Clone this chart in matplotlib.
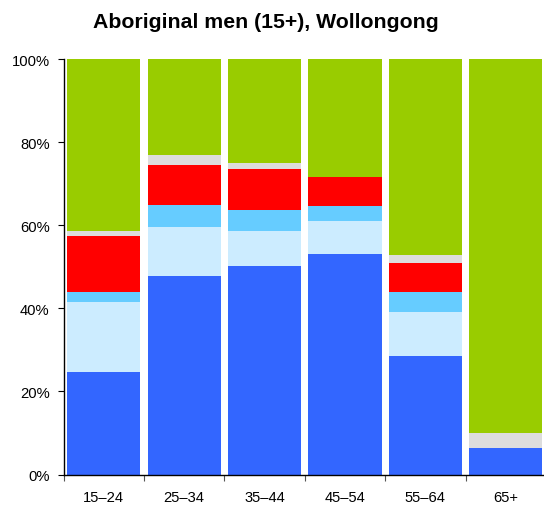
import matplotlib
matplotlib.use("Agg")
import matplotlib.pyplot as plt
import numpy as np

plt.rcParams['font.family'] = ['Liberation Sans', 'DejaVu Sans']

categories = ["15–24", "25–34", "35–44", "45–54", "55–64", "65+"]
series_names = ["s1", "s2", "s3", "s4", "s5", "s6"]
s1 = [24.6, 47.8, 50.1, 53.2, 28.5, 6.4]
s2 = [16.9, 11.8, 8.6, 7.8, 10.6, 0.0]
s3 = [2.4, 5.4, 5.0, 3.7, 4.9, 0.0]
s4 = [13.5, 9.6, 9.8, 6.9, 6.9, 0.0]
s5 = [1.2, 2.4, 1.5, 0.0, 1.9, 3.7]
s6 = [41.4, 23.0, 25.0, 28.4, 47.2, 89.9]
colors = ["#3366FF", "#CCECFF", "#66CCFF", "#FF0000", "#DDDDDD", "#99CC00"]

W, H = 544, 506
fig = plt.figure(figsize=(W / 100, H / 100), dpi=100)
left, right = 63.5, 546.0
top, bottom = 60.3, 475.5
ax = fig.add_axes([left / W, 1 - bottom / H, (right - left) / W, (bottom - top) / H])

x = np.arange(len(categories))
base = np.zeros(len(categories))
for vals, c in zip([s1, s2, s3, s4, s5, s6], colors):
    v = np.array(vals)
    ax.bar(x, v, bottom=base, width=0.91, color=c, edgecolor='none', zorder=2)
    base += v

ax.set_xlim(-0.5, len(categories) - 0.5)
ax.set_ylim(0, 100)
ax.set_yticks([0, 20, 40, 60, 80, 100])
ax.set_yticklabels([f"{v}%" for v in [0, 20, 40, 60, 80, 100]], fontsize=10.6)
ax.tick_params(axis='y', length=4, width=0.8, pad=6, colors='black')

ax.set_xticks(np.arange(len(categories) + 1) - 0.5)
ax.set_xticklabels([])
ax.tick_params(axis='x', which='major', length=4, width=0.8, color='#555555')
ax.set_xticks(x, minor=True)
ax.set_xticklabels(categories, minor=True, fontsize=10.6)
ax.tick_params(axis='x', which='minor', length=0, pad=11)

for s in ['top', 'right']:
    ax.spines[s].set_visible(False)
for s in ['left', 'bottom']:
    ax.spines[s].set_linewidth(1.0)
    ax.spines[s].set_color('black')

fig.text(266 / W, 1 - 22 / H, "Aboriginal men (15+), Wollongong",
         ha='center', va='center', fontsize=15.3, fontweight='bold')

fig.savefig("out.png", dpi=100)
